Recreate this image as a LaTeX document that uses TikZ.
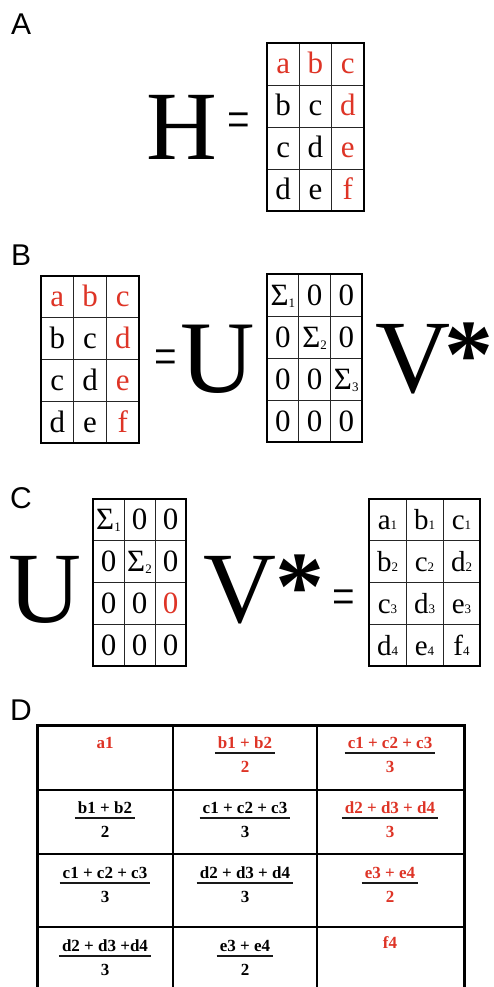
\documentclass[tikz,border=0pt]{standalone}
\usepackage{fontspec}
\setmainfont{Liberation Serif}
\newfontfamily\lab{Liberation Sans}
\usepackage{graphicx}
\definecolor{myred}{RGB}{222,52,38}
\newcommand\R[1]{\textcolor{myred}{#1}}
\newcommand\sig[1]{Σ\raisebox{-2pt}{\fontsize{13}{13}\selectfont #1}}
\newcommand\sub[1]{{\fontsize{13}{13}\selectfont #1}}
\newcommand\mgrid[4]{%
  \foreach \i in {1,2} \draw[innerline] ({#1+\i*#3},#2) -- ({#1+\i*#3},{#2+4*#4});
  \foreach \j in {1,2,3} \draw[innerline] (#1,{#2+\j*#4}) -- ({#1+3*#3},{#2+\j*#4});
  \draw[outerline] (#1,#2) rectangle ({#1+3*#3},{#2+4*#4});
}
\newcommand\mcells[7]{%
  \foreach \t [count=\k from 0] in {#7} {
    \pgfmathtruncatemacro\mrow{div(\k,3)}
    \pgfmathtruncatemacro\mcol{mod(\k,3)}
    \node[#6, anchor=base] (#1\k) at ({#2+(\mcol+0.5)*#4},{#3+(\mrow+0.5)*#5+10}) {\t};
  }
}
\newcommand\fr[6]{%
  \node[dtext, text=#6, anchor=base, inner xsep=3pt] (#1n) at ({#2},{#3-5}) {#4};
  \node[dtext, text=#6, anchor=base] (#1d) at ({#2},{#3+19}) {#5};
  \draw[fracline] (#1n.west |- #2,#3) -- (#1n.east |- #2,#3);
}
\tikzset{
  innerline/.style={line width=0.9pt, draw=black!85},
  outerline/.style={line width=2pt, draw=black},
  mtext/.style={inner sep=0pt, font=\fontsize{31}{31}\selectfont},
  ctext/.style={inner sep=0pt, font=\fontsize{29}{29}\selectfont},
  big/.style={inner sep=0pt, anchor=base west},
  star/.style={inner sep=0pt, anchor=north, font=\fontsize{98}{98}\selectfont\bfseries},
  eqs/.style={inner sep=0pt, font=\fontsize{40}{40}\selectfont},
  label/.style={inner sep=0pt, anchor=base west, font=\lab\fontsize{30}{30}\selectfont},
  dtext/.style={inner sep=0pt, font=\fontsize{17}{20}\selectfont\bfseries},
  fracline/.style={line width=1.5pt, draw=black!90},
  dinner/.style={line width=1.5pt, draw=black},
  douter/.style={line width=3pt, draw=black},
}
\begin{document}
\begin{tikzpicture}[x=1pt,y=-1pt]
\useasboundingbox (0,0) rectangle (493,987);
\clip (0,0) rectangle (493,987);
\fill[white] (0,0) rectangle (493,987);
% ---------- A ----------
\node[label] (labA) at (11,35) {A};
\node[big, font=\fontsize{98}{98}\selectfont] (H) at (146,160) {H};
\node[eqs, anchor=center] (eqA) at (239,126) {\scalebox{1}[1.4]{=}};
\mgrid{267}{43}{32.3}{42}
\mcells{ma}{267}{43}{32.3}{42}{mtext}{\R{a},\R{b},\R{c},b,c,\R{d},c,d,\R{e},d,e,\R{f}}
% ---------- B ----------
\node[label] (labB) at (11,265) {B};
\mgrid{41}{276}{32.7}{41.75}
\mcells{mb}{41}{276}{32.7}{41.75}{mtext}{\R{a},\R{b},\R{c},b,c,\R{d},c,d,\R{e},d,e,\R{f}}
\node[eqs, anchor=center] (eqB) at (165.5,363) {\scalebox{1}[1.4]{=}};
\node[big, font=\fontsize{103}{103}\selectfont] (UB) at (180.5,392) {U};
\mgrid{267}{274}{31.7}{42}
\mcells{sb}{267}{274}{31.7}{42}{mtext}{\sig1,0,0,0,\sig2,0,0,0,\sig3,0,0,0}
\node[big, font=\fontsize{104}{104}\selectfont] (VB) at (375,392) {V};
\node[star] (starB) at (469,323) {\makebox[38pt]{*}};
% ---------- C ----------
\node[label] (labC) at (10,508) {C};
\node[big, font=\fontsize{101}{101}\selectfont] (UC) at (8.5,622) {U};
\mgrid{93}{499}{31}{41.75}
\mcells{sc}{93}{499}{31}{41.75}{mtext}{\sig1,0,0,0,\sig2,0,0,0,\R{0},0,0,0}
\node[big, font=\fontsize{101}{101}\selectfont] (VC) at (203.5,622) {V};
\node[star] (starC) at (300,555) {\makebox[38pt]{*}};
\node[eqs, anchor=center] (eqC) at (343.5,603) {\scalebox{1}[1.4]{=}};
\mgrid{369}{499}{37}{41.75}
\mcells{rc}{369}{499}{37}{41.75}{ctext}{a\sub1,b\sub1,c\sub1,b\sub2,c\sub2,d\sub2,c\sub3,d\sub3,e\sub3,d\sub4,e\sub4,f\sub4}
% ---------- D ----------
\node[label] (labD) at (10,720) {D};
\foreach \yy in {790,854,927} \draw[dinner] (37,\yy) -- (464,\yy);
\foreach \xx in {173,317} \draw[dinner] (\xx,725) -- (\xx,1000);
\draw[douter] (37,1000) -- (37,725) -- (464,725) -- (464,1000);
\node[dtext, text=myred, anchor=base] (d11) at (105,748) {a1};
\fr{d12}{245}{753}{b1 + b2}{2}{myred}
\fr{d13}{390}{753}{c1 + c2 + c3}{3}{myred}
\fr{d21}{105}{818}{b1 + b2}{2}{black}
\fr{d22}{245}{818}{c1 + c2 + c3}{3}{black}
\fr{d23}{390}{818}{d2 + d3 + d4}{3}{myred}
\fr{d31}{105}{883}{c1 + c2 + c3}{3}{black}
\fr{d32}{245}{883}{d2 + d3 + d4}{3}{black}
\fr{d33}{390}{883}{e3 + e4}{2}{myred}
\fr{d41}{105}{956}{d2 + d3 +d4}{3}{black}
\fr{d42}{245}{956}{e3 + e4}{2}{black}
\node[dtext, text=myred, anchor=base] (d43) at (390,948) {f4};
\end{tikzpicture}
\end{document}
